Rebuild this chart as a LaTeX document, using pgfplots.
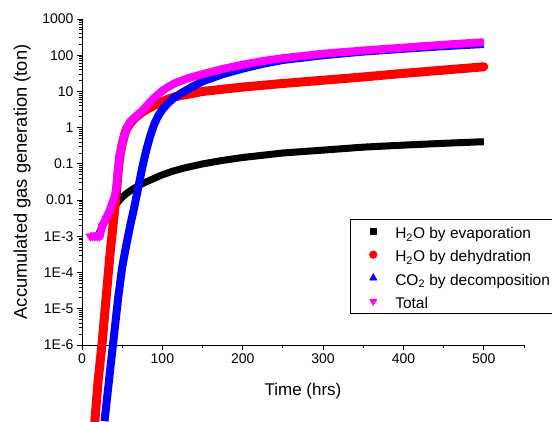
\documentclass[border=0pt]{standalone}
\usepackage{fontspec}
\setmainfont{Liberation Sans}
\usepackage{pgfplots}
\pgfplotsset{compat=1.18}

\definecolor{pinkish}{RGB}{255,0,255}

\begin{document}
\begin{tikzpicture}
\begin{axis}[
  at={(0pt,0pt)}, anchor=south west,
  scale only axis, width=442pt, height=326pt,
  ymode=log, xmin=0, xmax=550, ymin=1e-6, ymax=1000,
  axis x line*=bottom, axis y line*=left,
  axis line style={line width=0.9pt},
  tick style={line width=0.9pt, black},
  tick align=outside, major tick length=5pt, minor tick length=3pt,
  xtick={0,100,...,500}, minor xtick={50,150,...,550},
  ytick={1e-6,1e-5,1e-4,1e-3,1e-2,1e-1,1,10,100,1000},
  yticklabels={1E-6,1E-5,1E-4,1E-3,0.01,0.1,1,10,100,1000},
  minor ytick={2e-6,3e-6,4e-6,5e-6,6e-6,7e-6,8e-6,9e-6,
    2e-5,3e-5,4e-5,5e-5,6e-5,7e-5,8e-5,9e-5,
    2e-4,3e-4,4e-4,5e-4,6e-4,7e-4,8e-4,9e-4,
    2e-3,3e-3,4e-3,5e-3,6e-3,7e-3,8e-3,9e-3,
    0.02,0.03,0.04,0.05,0.06,0.07,0.08,0.09,
    0.2,0.3,0.4,0.5,0.6,0.7,0.8,0.9,
    2,3,4,5,6,7,8,9,
    20,30,40,50,60,70,80,90,
    200,300,400,500,600,700,800,900},
  /pgf/number format/assume math mode=true,
  tick label style={font=\fontsize{14}{16}\selectfont},
  xlabel={Time (hrs)},
  ylabel={Accumulated gas generation (ton)},
  xlabel style={font=\fontsize{17}{20}\selectfont,
    at={(axis description cs:0.5,-0.1564)}, anchor=base},
  ylabel style={font=\fontsize{18.3}{21}\selectfont,
    at={(axis description cs:-0.1357,0.5)}, anchor=center},
  clip=false,
  line join=round,
  legend cell align=left,
  legend image code/.code={\path[draw=none, fill=none] (0pt,0pt) -- (33pt,0pt);
    \draw[#1, draw=none] plot coordinates {(11pt,0pt)};},
  legend style={at={(axis description cs:0.6063,0.3865)}, anchor=north west,
    draw=black, line width=0.6pt, fill=white,
    inner xsep=12pt, inner ysep=4.9pt, row sep=9pt,
    font=\fontsize{15.5}{18}\selectfont,
    nodes={inner sep=0pt, text height=14.3pt, text depth=0pt}},
]

% H2O by evaporation
\addplot[black, line width=7pt, forget plot] coordinates {
  (10,1.0e-3) (15,1.0e-3) (20,1.05e-3) (25,1.8e-3) (30,3.0e-3) (35,4.5e-3)
  (40,6.5e-3) (45,9.0e-3) (50,0.012) (55,0.015) (60,0.018) (70,0.025) (80,0.032)
  (90,0.040) (100,0.050) (112,0.062) (125,0.075) (150,0.10) (175,0.125) (200,0.15)
  (250,0.20) (300,0.24) (350,0.29) (400,0.33) (450,0.37) (500,0.41)};

% H2O by dehydration
\addplot[red, line width=9pt, line cap=round, forget plot] coordinates {
  (16,7.9e-9) (20,1.0e-7) (25,1.12e-6) (30,2.0e-5) (35,3.5e-4) (40,4.0e-3)
  (43,0.018) (45,0.063) (47,0.16) (50,0.35) (53,0.65) (55,0.89) (60,1.32) (65,1.78)
  (70,2.19) (75,2.7) (80,3.16) (90,4.17) (100,5.25) (108,6.2) (115,7.08) (125,7.9)
  (134,8.5) (150,10) (175,11.5) (200,13.2) (250,16.6) (300,20.4) (350,25.1)
  (400,31.6) (450,38.9) (500,47.9)};

% CO2 by decomposition
\addplot[blue, line width=8pt, forget plot] coordinates {
  (28,7.9e-9) (32,5.0e-8) (36,3.2e-7) (40,2.0e-6) (45,2.0e-5) (50,1.4e-4)
  (55,5.6e-4) (60,2.0e-3) (65,6.3e-3) (70,0.0224) (75,0.079) (80,0.24)
  (85,0.60) (90,1.26) (95,2.14) (100,3.16) (107,4.8) (115,6.8) (125,9.4) (134,12.3)
  (150,19) (175,30) (200,42.7) (225,58) (250,74) (300,100) (350,126) (400,151)
  (450,178) (500,204)};

% Total
\addplot[pinkish, line width=8pt, mark=triangle*, mark indices={1,...,7},
  mark options={rotate=180, line width=0.3pt}, mark size=5pt, forget plot] coordinates {
  (10,1e-3) (13,1e-3) (16,1e-3) (19,1e-3) (22,1e-3) (25,1.9e-3) (30,3.1e-3)
  (35,5.5e-3) (38,8.9e-3) (40,0.011) (42,0.018) (43,0.025) (45,0.071)
  (47,0.17) (50,0.36) (55,0.93) (60,1.48) (66,1.95) (76,3.1) (87,5.8)
  (100,10.5) (109,14.1) (118,17.8) (134,24) (150,30) (175,41.7) (200,55)
  (225,69) (250,83) (300,110) (350,135) (400,162) (450,195) (500,229)};

\addlegendimage{only marks, mark=square*, black, mark size=3pt}
\addlegendentry{H\textsubscript{2}O by evaporation}
\addlegendimage{only marks, mark=*, red, mark size=3.8pt}
\addlegendentry{H\textsubscript{2}O by dehydration}
\addlegendimage{only marks, mark=triangle*, blue, mark size=4.2pt}
\addlegendentry{CO\textsubscript{2} by decomposition}
\addlegendimage{only marks, mark=triangle*, mark options={rotate=180}, pinkish, mark size=4.2pt}
\addlegendentry{Total}
\end{axis}
\pgfresetboundingbox
\path[use as bounding box] (-82pt,-76pt) rectangle (470pt,345pt);
\end{tikzpicture}
\end{document}
